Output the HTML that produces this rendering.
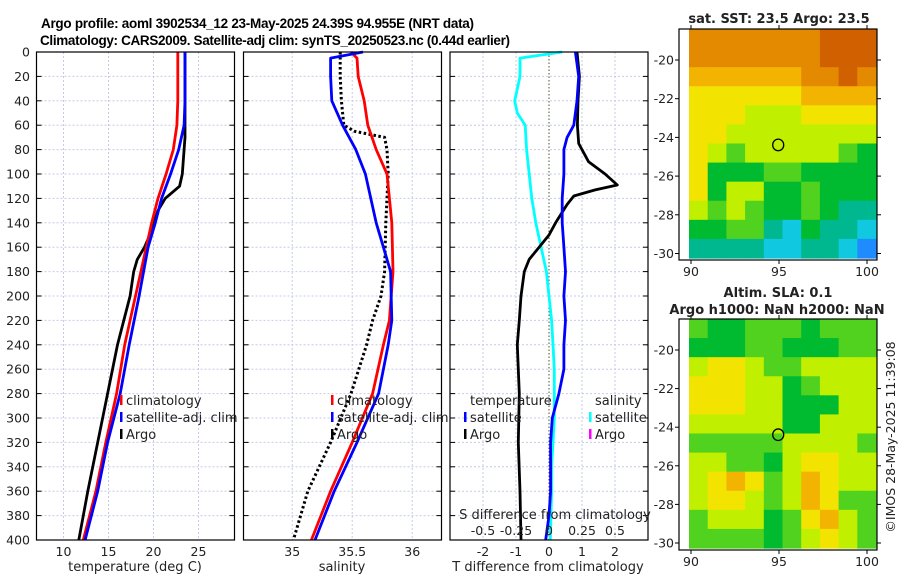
<!DOCTYPE html>
<html><head><meta charset="utf-8"><style>
html,body{margin:0;padding:0;background:#fff;}
svg{display:block;font-family:"DejaVu Sans","Liberation Sans",sans-serif;}
</style></head><body>
<svg id="fig" width="900" height="580" viewBox="0 0 900 580">
<text x="41" y="28" font-size="13.5" font-weight="bold" font-family="Liberation Sans, sans-serif" textLength="433" lengthAdjust="spacing">Argo profile: aoml 3902534_12 23-May-2025 24.39S 94.955E (NRT data)</text>
<text x="40" y="45" font-size="13.5" font-weight="bold" font-family="Liberation Sans, sans-serif" textLength="470" lengthAdjust="spacing">Climatology: CARS2009. Satellite-adj clim: synTS_20250523.nc (0.44d earlier)</text>
<g id="panels"></g>
</svg>
<script>
// ---- data ----
const depthTicks = [0,20,40,60,80,100,120,140,160,180,200,220,240,260,280,300,320,340,360,380,400];
const tempTicks = [10,15,20,25];
const salTicks = [35,35.5,36];
const salTickLabels = ["35","35.5","36"];
const dTTicks = [-2,-1,0,1,2];
const dSTicks = [-0.5,-0.25,0,0.25,0.5];
const dSTickLabels = ["-0.5","-0.25","0","0.25","0.5"];

const climDepth = [0,20,40,60,80,100,120,140,160,200,240,280,320,360,400];
const climTemp  = [22.7,22.7,22.7,22.6,22.2,21.4,20.5,19.8,19.2,18.0,16.8,15.9,14.7,13.6,12.2];
const satTemp   = [23.5,23.5,23.5,23.4,22.8,21.9,20.9,20.2,19.4,18.4,17.3,16.3,14.9,13.8,12.4];
const argoTDepth = [0,20,40,60,70,100,110,120,130,150,160,170,180,200,220,240,280,320,360,400];
const argoTemp   = [23.5,23.5,23.5,23.5,23.5,23.2,22.9,21.3,20.5,19.6,19.0,18.2,17.8,17.4,16.7,16.0,14.9,13.8,12.7,11.7];

const salDepth = [0,5,20,40,60,80,100,140,180,220,240,280,320,360,400];
const climSal  = [35.49,35.54,35.55,35.6,35.63,35.7,35.79,35.83,35.84,35.81,35.76,35.67,35.5,35.32,35.16];
const satSal   = [35.59,35.32,35.32,35.33,35.42,35.53,35.61,35.7,35.82,35.83,35.8,35.72,35.54,35.35,35.19];
const argoSDepth = [0,20,40,60,65,70,80,100,140,180,200,220,240,280,320,360,400];
const argoSal    = [35.4,35.4,35.41,35.43,35.52,35.77,35.79,35.8,35.78,35.77,35.74,35.67,35.62,35.49,35.32,35.13,35.01];

const dDepth = [0,20,40,60,70,80,100,120,140,160,180,200,220,240,260,280,300,320,340,360,380,400];
const satTdiff = [0.8,0.9,0.85,0.75,0.55,0.45,0.45,0.4,0.4,0.45,0.5,0.45,0.5,0.45,0.45,0.3,0.1,0.05,0.05,0.05,0.0,-0.1];
const sDiffDepth = [0,5,20,40,50,60,80,100,120,140,160,180,200,220,240,260,280,300,320,340,360,400];
const satSdiff = [0.1,-0.22,-0.22,-0.26,-0.24,-0.18,-0.17,-0.15,-0.13,-0.1,-0.06,-0.02,0.0,0.02,0.03,0.04,0.04,0.04,0.03,0.02,0.02,0.01];
const argoTDiffDepth = [0,20,40,60,75,90,100,109,113,118,125,140,150,160,170,180,200,220,240,280,320,360,400];
const argoTdiff = [0.85,0.92,0.88,0.86,0.9,1.2,1.7,2.07,1.4,0.75,0.55,0.2,0.0,-0.3,-0.6,-0.75,-0.85,-0.9,-0.96,-0.9,-0.93,-0.88,-0.85];

// SST map (color indices), rows north->south
const sstGrid = [
[8,8,8,8,8,8,8,9,9,9],[8,8,8,8,8,8,8,9,9,9],[7,7,7,7,7,7,8,8,9,8],[6,6,6,6,6,6,7,7,7,7],
[6,6,6,5,5,5,6,6,6,6],[6,6,5,5,5,5,5,5,5,5],[6,5,4,5,5,5,5,5,4,3],[6,3,3,3,4,4,3,3,3,3],
[6,3,5,5,3,3,4,3,3,3],[5,4,5,4,3,3,4,3,2,2],[3,3,4,4,2,1,3,2,2,1],[2,2,2,2,1,1,2,2,1,0]];
const slaGrid = [
[4,3,3,4,4,4,3,4,4,4],[3,3,3,4,4,3,3,3,4,4],[5,6,6,5,4,4,5,5,5,5],[6,6,6,5,5,3,4,5,5,5],
[6,6,6,5,5,3,3,3,5,5],[5,5,5,5,5,3,3,5,5,5],[4,4,4,4,4,5,5,5,5,4],[5,5,4,4,3,5,6,6,5,5],
[5,6,7,6,4,5,7,6,5,5],[5,6,6,5,4,5,7,6,4,4],[4,5,5,5,3,4,6,7,5,4],[4,4,4,4,3,4,5,6,5,4]];
const palette = ["#1e8cff","#10c8e0","#00b890","#00bb30","#50d21e","#c0f000","#f2e400","#f2b400","#e48a00","#d06000"];
const latTicks = [-20,-22,-24,-26,-28,-30];
const lonTicks = [90,95,100];
const argoLon = 94.955, argoLat = -24.39;

// ---- drawing ----
const NS = "http://www.w3.org/2000/svg";
const root = document.getElementById('panels');
function mk(tag, attrs, parent){ const e=document.createElementNS(NS,tag); for(const k in attrs) e.setAttribute(k,attrs[k]); (parent||root).appendChild(e); return e; }
const top0=52, bot0=540;
const yD = d => top0 + d*(bot0-top0)/400;

function panel(x0,x1,xmin,xmax,name){
  const g = mk('g',{});
  
  
  const sx = v => x0 + (v-xmin)*(x1-x0)/(xmax-xmin);
  return {g,sx,x0,x1};
}
function hgrid(p){
  depthTicks.forEach(d=>{ if(d>0&&d<400){ mk('line',{x1:p.x0,x2:p.x1,y1:yD(d),y2:yD(d),stroke:'#c5cbe6','stroke-width':1,'stroke-dasharray':'2,2'},p.g);} });
}
function vgrid(p,vals){ vals.forEach(v=>{ mk('line',{x1:p.sx(v),x2:p.sx(v),y1:top0,y2:bot0,stroke:'#c5cbe6','stroke-width':1,'stroke-dasharray':'2,2'},p.g); }); }
function frame(p){
  mk('rect',{x:p.x0,y:top0,width:p.x1-p.x0,height:bot0-top0,fill:'none',stroke:'#000','stroke-width':1.2},p.g);
  depthTicks.forEach(d=>{ mk('line',{x1:p.x0,x2:p.x0+5,y1:yD(d),y2:yD(d),stroke:'#000'},p.g); mk('line',{x1:p.x1-5,x2:p.x1,y1:yD(d),y2:yD(d),stroke:'#000'},p.g); });
}
function line(p,xs,ds,color,name,dash){
  const pts = xs.map((v,i)=>p.sx(v).toFixed(1)+','+yD(ds[i]).toFixed(1)).join(' ');
  const el = mk('polyline',{points:pts,fill:'none',stroke:color,'stroke-width':dash?3:2.8,'stroke-linejoin':'round'},p.g);
  if(dash){ el.setAttribute('stroke-dasharray','2.5,2.5'); }
  
  
}
function xlabels(p,vals,labels,name){
  vals.forEach((v,i)=>{ const t=mk('text',{x:p.sx(v),y:556,'font-size':12.5,'text-anchor':'middle',fill:'#222'},p.g); t.textContent=labels?labels[i]:String(v);
    
     });
}
function ttl(x,y,s,name,anchor,size){ const t=mk('text',{x:x,y:y,'font-size':size||13,'text-anchor':anchor||'middle',fill:'#222'}); t.textContent=s;
  
   return t; }
function legend(x,y,color,label,name){
  mk('rect',{x:x,y:y-10,width:2.5,height:10,fill:color});
  ttl(x+6,y,label,name,'start',13);
}

// depth labels
depthTicks.forEach(d=>{ const t=mk('text',{x:30,y:yD(d)+4.5,'font-size':12.5,'text-anchor':'end',fill:'#222'}); t.textContent=String(d);
  
   });

// panel 1: temperature
const p1 = panel(36.5,234.5,7,29,'temperature-panel');
hgrid(p1); vgrid(p1,tempTicks);
line(p1,argoTemp,argoTDepth,'#000','argo-temperature-line');
line(p1,climTemp,climDepth,'#ff0000','climatology-temperature-line');
line(p1,satTemp,climDepth,'#0000ff','satellite-temperature-line');
frame(p1); xlabels(p1,tempTicks,null,'temperature');
ttl(135,571,'temperature (deg C)','temperature-axis-title');
legend(120,405,'#ff0000','climatology','legend-climatology');
legend(120,422,'#0000ff','satellite-adj. clim','legend-satellite');
legend(120,439,'#000','Argo','legend-argo');

// panel 2: salinity
const p2 = panel(243.5,441.5,34.594,36.244,'salinity-panel');
hgrid(p2); vgrid(p2,salTicks);
line(p2,argoSal,argoSDepth,'#000','argo-salinity-line',true);
line(p2,climSal,salDepth,'#ff0000','climatology-salinity-line');
line(p2,satSal,salDepth,'#0000ff','satellite-salinity-line');
frame(p2); xlabels(p2,salTicks,salTickLabels,'salinity');
ttl(342,571,'salinity','salinity-axis-title');
legend(331,405,'#ff0000','climatology','legend-climatology-2');
legend(331,422,'#0000ff','satellite-adj. clim','legend-satellite-2');
legend(331,439,'#000','Argo','legend-argo-2');

// panel 3: differences
const p3 = panel(450,648,-3,3,'difference-panel');
hgrid(p3); vgrid(p3,[-2,-1,1,2]);
mk('line',{x1:p3.sx(0),x2:p3.sx(0),y1:top0,y2:bot0,stroke:'#445533','stroke-width':1,'stroke-dasharray':'1.5,2'},p3.g);
const sToT = v => v*4;
line(p3,satSdiff.map(sToT),sDiffDepth,'#00ffff','satellite-salinity-diff-line');
line(p3,argoTdiff,argoTDiffDepth,'#000','argo-temperature-diff-line');
line(p3,satTdiff,dDepth,'#0000ff','satellite-temperature-diff-line');
frame(p3); xlabels(p3,dTTicks,null,'t-difference');
ttl(548,571,'T difference from climatology','t-difference-axis-title');
ttl(555,519,'S difference from climatology','s-difference-axis-title');
dSTicks.forEach((v,i)=>{ ttl(p3.sx(sToT(v)),535,dSTickLabels[i],'s-difference-tick-label','middle',12.5); });
ttl(470,405,'temperature','legend-temperature-header','start');
legend(464,422,'#0000ff','satellite','legend-temp-satellite');
legend(464,439,'#000','Argo','legend-temp-argo');
ttl(595,405,'salinity','legend-salinity-header','start');
legend(589,422,'#00ffff','satellite','legend-sal-satellite');
legend(589,439,'#ff00ff','Argo','legend-sal-argo');

// maps
function map(grid,fx0,fx1,fy0,fy1,ix1,iy1,lat20,lat30,name){
  const g = mk('g',{});
  
  
  const ix0=689, iy0=fy0;
  const lonX = v => 691 + (v-90)*17.6;
  const latY = v => lat20 + (v+20)*(lat30-lat20)/(-10);
  const rows=grid.length, cols=grid[0].length;
  const cw=(ix1-ix0)/cols, ch=(iy1-iy0)/rows;
  grid.forEach((r,i)=>r.forEach((c,j)=>{
    const cell = mk('rect',{x:(ix0+j*cw).toFixed(2),y:(iy0+i*ch).toFixed(2),width:(cw+0.6).toFixed(2),height:(ch+0.6).toFixed(2),fill:palette[c]},g);
    
    
  }));
  mk('rect',{x:fx0,y:fy0,width:fx1-fx0,height:fy1-fy0,fill:'none',stroke:'#000','stroke-width':1.2},g);
  latTicks.forEach(v=>{ const y=latY(v); mk('line',{x1:fx0-4,x2:fx0,y1:y,y2:y,stroke:'#000'},g); mk('line',{x1:fx1,x2:fx1+4,y1:y,y2:y,stroke:'#000'},g);
    const t=mk('text',{x:fx0-5,y:y+4.5,'font-size':12.5,'text-anchor':'end',fill:'#222'},g); t.textContent=String(v);
    
     });
  lonTicks.forEach(v=>{ const x=lonX(v); mk('line',{x1:x,x2:x,y1:fy1,y2:fy1+4,stroke:'#000'},g); mk('line',{x1:x,x2:x,y1:fy0-4,y2:fy0,stroke:'#000'},g);
    const t=mk('text',{x:x,y:fy1+16,'font-size':12.5,'text-anchor':'middle',fill:'#222'},g); t.textContent=String(v);
    
     });
  const c = mk('ellipse',{cx:lonX(argoLon),cy:latY(argoLat),rx:5.5,ry:5.8,fill:'none',stroke:'#000','stroke-width':1.3},g);
  
  
}
map(sstGrid,679,877,29,260,876,258,60,253.5,'sst-map');
map(slaGrid,679,877,319,550,876,548,350,543,'sla-map');
const mt=ttl(779,23,'sat. SST: 23.5 Argo: 23.5','sst-map-title','middle',13); mt.setAttribute('font-weight','bold');
const m2=ttl(778,297,'Altim. SLA: 0.1','sla-map-title','middle',13); m2.setAttribute('font-weight','bold');
const m3=ttl(777,314,'Argo h1000: NaN h2000: NaN','sla-map-subtitle','middle',13); m3.setAttribute('font-weight','bold');
const cr=ttl(0,0,'©IMOS 28-May-2025 11:39:08','copyright-timestamp','middle',12.5);
cr.setAttribute('transform','translate(895,437) rotate(-90)');
</script>
</body></html>
